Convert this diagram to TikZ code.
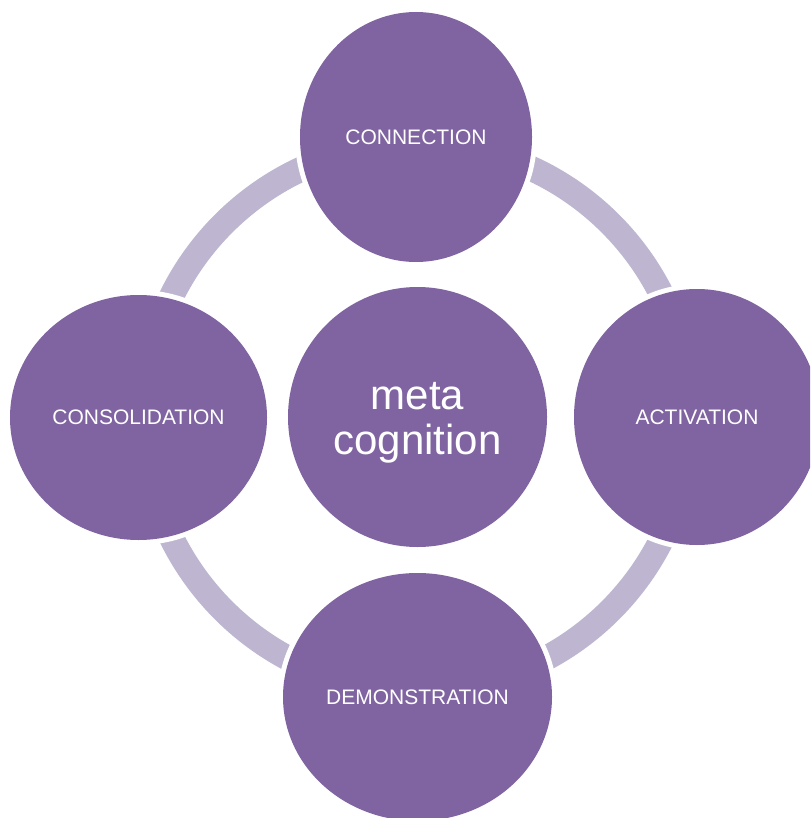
\documentclass[tikz,border=0pt]{standalone}
\usepackage{fontspec}
\setmainfont{Liberation Sans}
\usetikzlibrary{shapes.geometric}
\definecolor{bubblefill}{RGB}{128,100,162}
\definecolor{ringcol}{RGB}{190,182,208}
\begin{document}
\begin{tikzpicture}[x=1pt,y=-1pt,
  bubble/.style={ellipse, fill=bubblefill, inner sep=0pt, text=white, align=center,
    font=\fontsize{21}{24}\selectfont, preaction={draw=white, line width=10pt}},
  ring/.style={draw=ringcol, line width=25pt}]
\clip (0,0) rectangle (810,818);
\fill[white] (0,0) rectangle (810,818);
\coordinate (hub) at (417,417);
\draw[ring] (hub) circle [radius=273.5pt];
\node[bubble, minimum width=232pt, minimum height=250pt] (conn) at (416,137) {CONNECTION};
\node[bubble, minimum width=246pt, minimum height=256pt] (act) at (697,417) {ACTIVATION};
\node[bubble, minimum width=269pt, minimum height=248pt] (dem) at (417.5,697) {DEMONSTRATION};
\node[bubble, minimum width=257pt, minimum height=245pt] (cons) at (138.5,417.5) {CONSOLIDATION};
\node[bubble, minimum width=259pt, minimum height=260pt, font=\fontsize{42}{45}\selectfont] (meta) at (417.5,417) {\rule{0pt}{38pt}meta\\cognition};
\end{tikzpicture}
\end{document}
